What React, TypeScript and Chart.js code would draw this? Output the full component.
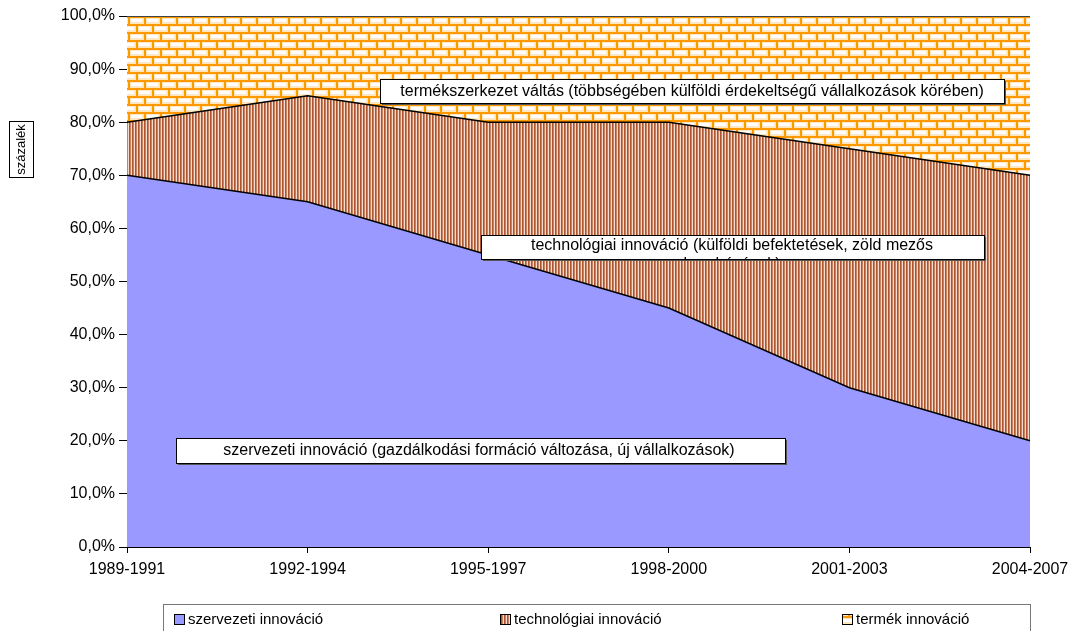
import React, { useEffect, useRef } from "react";
import { Chart, registerables } from "chart.js";

Chart.register(...registerables);

const categories = ["1989-1991", "1992-1994", "1995-1997", "1998-2000", "2001-2003", "2004-2007"];
const szervezeti = [70, 65, 55, 45, 30, 20];
const technologiai = [10, 20, 25, 35, 45, 50];
const termek = [20, 15, 20, 20, 25, 30];
const seriesNames = ["szervezeti innováció", "technológiai innováció", "termék innováció"];
const yTitle = "százalék";
const noteTermek = "termékszerkezet váltás (többségében külföldi érdekeltségű vállalkozások körében)";
const noteTech1 = "technológiai innováció (külföldi befektetések, zöld mezős";
const noteTech2 = "beruházások)";
const noteSzerv = "szervezeti innováció (gazdálkodási formáció változása, új vállalkozások)";

const FONT = '"Liberation Sans", Arial, sans-serif';

function makeBrick(): CanvasPattern | string {
  const c = document.createElement("canvas");
  c.width = 16;
  c.height = 16;
  const g = c.getContext("2d");
  if (!g) return "#FFCC66";
  g.fillStyle = "#FFE7C2";
  g.fillRect(0, 0, 16, 16);
  g.fillStyle = "#FFFFFF";
  g.fillRect(3, 3, 11, 3);
  g.fillRect(11, 11, 11, 3);
  g.fillRect(0, 11, 6, 3);
  g.fillStyle = "#FF9900";
  g.fillRect(0, 0, 16, 2);
  g.fillRect(0, 8, 16, 2);
  g.fillRect(0, 0, 2, 8);
  g.fillRect(8, 8, 2, 8);
  const p = g.createPattern(c, "repeat");
  return p || "#FFCC66";
}

function makeStripe(): CanvasPattern | string {
  const c = document.createElement("canvas");
  c.width = 3;
  c.height = 4;
  const g = c.getContext("2d");
  if (!g) return "#C07040";
  g.fillStyle = "#AD5530";
  g.fillRect(0, 0, 1, 4);
  g.fillStyle = "#C98360";
  g.fillRect(1, 0, 1, 4);
  g.fillStyle = "#F2DCCF";
  g.fillRect(2, 0, 1, 4);
  const p = g.createPattern(c, "repeat");
  return p || "#C07040";
}

export default function App() {
  const ref = useRef<HTMLCanvasElement | null>(null);

  useEffect(() => {
    document.body.style.margin = "0";
    const canvas = ref.current;
    if (!canvas) return;
    const brick = makeBrick();
    const stripe = makeStripe();
    const blue = "#9999FF";

    const box = (ctx: CanvasRenderingContext2D, x: number, y: number, w: number, h: number) => {
      ctx.fillStyle = "#555555";
      ctx.fillRect(x + 2, y + 2, w, h);
      ctx.fillStyle = "#FFFFFF";
      ctx.fillRect(x, y, w, h);
      ctx.strokeStyle = "#000000";
      ctx.lineWidth = 1;
      ctx.strokeRect(x + 0.5, y + 0.5, w, h);
    };

    const overlay = {
      id: "overlay",
      afterDraw(chart: any) {
        const ctx: CanvasRenderingContext2D = chart.ctx;
        ctx.save();
        ctx.textBaseline = "middle";
        ctx.textAlign = "center";
        ctx.font = `16px ${FONT}`;
        // termek note
        box(ctx, 380, 79, 624, 24);
        ctx.fillStyle = "#000";
        ctx.fillText(noteTermek, 692, 91.5);
        // tech note
        box(ctx, 481, 235, 503, 24);
        ctx.save();
        ctx.beginPath();
        ctx.rect(481, 235, 503, 24);
        ctx.clip();
        ctx.fillStyle = "#000";
        ctx.fillText(noteTech1, 732, 246);
        ctx.fillText(noteTech2, 732, 265);
        ctx.restore();
        // szervezeti note
        box(ctx, 176, 438, 609, 25);
        ctx.fillStyle = "#000";
        ctx.fillText(noteSzerv, 479, 450.5);

        // y title
        ctx.save();
        ctx.fillStyle = "#FFFFFF";
        ctx.fillRect(9, 121, 24, 56);
        ctx.strokeStyle = "#000";
        ctx.lineWidth = 1;
        ctx.strokeRect(9.5, 121.5, 24, 56);
        ctx.translate(21.5, 149.5);
        ctx.rotate(-Math.PI / 2);
        ctx.font = `13px ${FONT}`;
        ctx.fillStyle = "#000";
        ctx.fillText(yTitle, 0, 0);
        ctx.restore();

        // legend
        ctx.strokeStyle = "#777777";
        ctx.lineWidth = 1;
        ctx.strokeRect(163.5, 604.5, 867, 40);
        const items = [
          { x: 174, fill: blue as any },
          { x: 500, fill: stripe as any },
          { x: 842, fill: brick as any },
        ];
        ctx.textAlign = "left";
        ctx.font = `15px ${FONT}`;
        items.forEach((it, i) => {
          ctx.fillStyle = it.fill;
          ctx.fillRect(it.x, 614, 11, 11);
          ctx.strokeStyle = "#000";
          ctx.strokeRect(it.x + 0.5, 614.5, 10, 10);
          ctx.fillStyle = "#000";
          ctx.fillText(seriesNames[i], it.x + 14, 620);
        });
        ctx.restore();
      },
    };

    const chart = new Chart(canvas, {
      type: "line",
      data: {
        labels: categories,
        datasets: [
          {
            label: seriesNames[0],
            data: szervezeti,
            backgroundColor: blue,
            borderColor: "#000000",
            borderWidth: 1.5,
            fill: "origin",
            pointRadius: 0,
            tension: 0,
          },
          {
            label: seriesNames[1],
            data: technologiai,
            backgroundColor: stripe as any,
            borderColor: "#000000",
            borderWidth: 1.5,
            fill: "-1",
            pointRadius: 0,
            tension: 0,
          },
          {
            label: seriesNames[2],
            data: termek,
            backgroundColor: brick as any,
            borderColor: "#444444",
            borderWidth: 2,
            fill: "-1",
            pointRadius: 0,
            tension: 0,
          },
        ],
      },
      options: {
        responsive: false,
        animation: false,
        layout: { padding: { top: 16, right: 39, left: 0, bottom: 0 } },
        plugins: { legend: { display: false }, tooltip: { enabled: false } },
        scales: {
          x: {
            type: "category",
            offset: false,
            grid: { display: true, drawOnChartArea: false, drawTicks: true, tickLength: 6, color: "#000" },
            border: { display: true, color: "#000", width: 1 },
            ticks: { color: "#000", font: { family: FONT, size: 16 }, padding: 7, maxRotation: 0, autoSkip: false },
            afterFit: (s: any) => {
              s.height = 84;
              s.paddingLeft = 0;
              s.paddingRight = 0;
            },
          },
          y: {
            stacked: true,
            min: 0,
            max: 100,
            grid: { display: true, drawOnChartArea: false, drawTicks: true, tickLength: 8, color: "#000" },
            border: { display: true, color: "#000", width: 1 },
            ticks: {
              stepSize: 10,
              color: "#000",
              font: { family: FONT, size: 16 },
              padding: 4,
              callback: (v: any) => `${Number(v).toFixed(1).replace(".", ",")}%`,
            },
            afterFit: (s: any) => {
              s.width = 127;
              s.paddingTop = 0;
              s.paddingBottom = 0;
            },
          },
        },
      },
      plugins: [overlay],
    });
    return () => chart.destroy();
  }, []);

  return (
    <div style={{ position: "absolute", left: 0, top: 0, width: 1069, height: 631, background: "#fff" }}>
      <canvas ref={ref} width={1069} height={631} style={{ width: 1069, height: 631, display: "block" }} />
    </div>
  );
}
